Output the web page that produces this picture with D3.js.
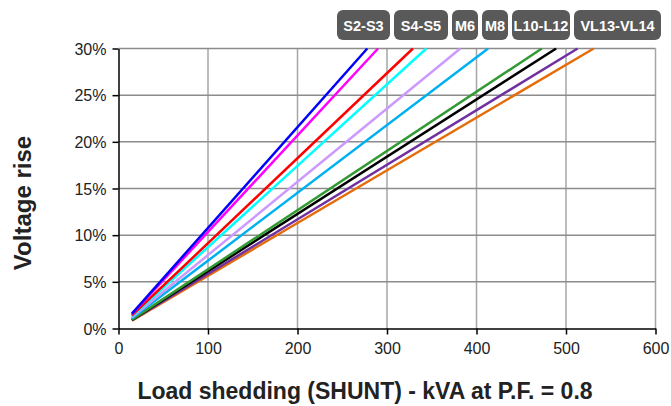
<!DOCTYPE html>
<html>
<head>
    <meta charset="utf-8">
    <title>Voltage rise vs load shedding</title>
    <script src="https://d3js.org/d3.v7.min.js"></script>
    <style>
        body { margin: 0; background: white; }
        text { font-family: "Liberation Sans", Arial, sans-serif; }
    </style>
</head>
<body>
    <div id="chart"></div>
    <script>
        // kVA at start / end of each line, voltage rise (%) at those points
        var series_names = ["S2", "S3", "S4", "S5", "M6", "M8", "L10", "L12", "VL13", "VL14"];
        var series_colors = ["#0000ff", "#ff00ff", "#ff0000", "#00ffff", "#cc99ff",
                             "#00b0f0", "#339933", "#000000", "#7030a0", "#e46c0a"];
        var start_kva = [15, 15, 15, 15, 15, 15, 15, 15, 15, 15];
        var start_rise = [1.6, 1.55, 1.4, 1.3, 1.2, 1.1, 0.95, 0.92, 0.88, 0.85];
        var end_kva = [278, 290, 329, 344, 382, 413, 473, 489, 513, 531];
        var end_rise = [30, 30, 30, 30, 30, 30, 30, 30, 30, 30];

        var x_ticks = [0, 100, 200, 300, 400, 500, 600];
        var y_ticks = [0, 5, 10, 15, 20, 25, 30];
        var range_labels = ["S2-S3", "S4-S5", "M6", "M8", "L10-L12", "VL13-VL14"];
        var label_widths = [53, 54, 26, 26, 58, 87];

        var width = 671, height = 406;
        var plot_left = 118.5, plot_right = 655.5, plot_top = 48.5, plot_bottom = 328.5;

        var svg = d3.select("#chart").append("svg")
                    .attr("width", width)
                    .attr("height", height);

        var x = d3.scaleLinear().domain([0, 600]).range([plot_left, plot_right]);
        var y = d3.scaleLinear().domain([0, 30]).range([plot_bottom, plot_top]);

        // grid
        svg.append("g").selectAll("line")
           .data(x_ticks.slice(1))
           .enter().append("line")
           .attr("x1", d => x(d)).attr("x2", d => x(d))
           .attr("y1", plot_top).attr("y2", plot_bottom)
           .attr("stroke", "#a6a6a6").attr("stroke-width", 1.5);
        svg.append("g").selectAll("line")
           .data(y_ticks.slice(1))
           .enter().append("line")
           .attr("x1", plot_left).attr("x2", plot_right)
           .attr("y1", d => y(d)).attr("y2", d => y(d))
           .attr("stroke", "#8c8c8c").attr("stroke-width", 1.5);

        // lines
        var line = d3.line().x(d => x(d[0])).y(d => y(d[1]));
        svg.append("clipPath").attr("id", "plot")
           .append("rect").attr("x", plot_left).attr("y", plot_top - 1)
           .attr("width", plot_right - plot_left).attr("height", plot_bottom - plot_top + 1);
        var lines = svg.append("g").attr("clip-path", "url(#plot)");
        for (var i = series_names.length - 1; i >= 0; --i) {
            lines.append("path")
                 .datum([[start_kva[i], start_rise[i]], [end_kva[i], end_rise[i]]])
                 .attr("d", line)
                 .attr("fill", "none")
                 .attr("stroke", series_colors[i])
                 .attr("stroke-width", 2.5);
        }

        // axes
        var x_axis = svg.append("g")
                        .attr("transform", "translate(0," + plot_bottom + ")")
                        .call(d3.axisBottom(x).tickValues(x_ticks).tickSize(6).tickSizeOuter(0).tickPadding(8));
        var y_axis = svg.append("g")
                        .attr("transform", "translate(" + plot_left + ",0)")
                        .call(d3.axisLeft(y).tickValues(y_ticks).tickFormat(d => d + "%").tickSize(6).tickSizeOuter(0).tickPadding(6));
        [x_axis, y_axis].forEach(function(a) {
            a.select(".domain").attr("stroke", "#000").attr("stroke-width", 1.5);
            a.selectAll(".tick line").attr("stroke", "#000").attr("stroke-width", 1.5);
            a.selectAll(".tick text").attr("font-size", 16).attr("fill", "#222")
             .attr("font-family", "Liberation Sans, Arial, sans-serif");
        });
        y_axis.selectAll(".tick text").attr("dy", "0.35em");

        // titles
        svg.append("text")
           .attr("x", 365).attr("y", 399)
           .attr("text-anchor", "middle")
           .attr("font-size", 23).attr("font-weight", "bold").attr("fill", "#222")
           .text("Load shedding (SHUNT) - kVA at P.F. = 0.8");
        svg.append("text")
           .attr("transform", "translate(31,203) rotate(-90)")
           .attr("text-anchor", "middle")
           .attr("font-size", 24).attr("font-weight", "bold").attr("fill", "#222")
           .text("Voltage rise");

        // range tags on top
        var tag_x = 337;
        var tags = svg.append("g");
        for (var j = 0; j < range_labels.length; ++j) {
            var w = label_widths[j];
            tags.append("rect")
                .attr("x", tag_x).attr("y", 10)
                .attr("width", w).attr("height", 30)
                .attr("rx", 6).attr("fill", "#595959");
            tags.append("text")
                .attr("x", tag_x + w / 2).attr("y", 30.5)
                .attr("text-anchor", "middle")
                .attr("font-size", 14.5).attr("font-weight", "bold").attr("fill", "white")
                .text(range_labels[j]);
            tag_x += w + 4;
        }
    </script>
</body>
</html>
